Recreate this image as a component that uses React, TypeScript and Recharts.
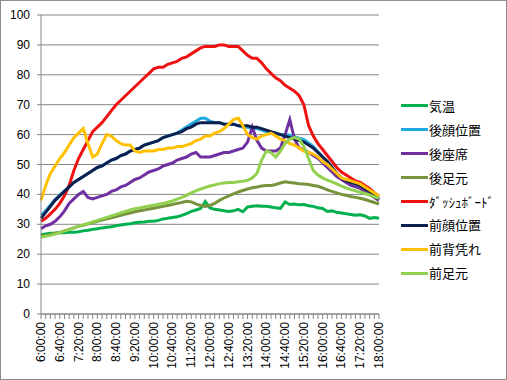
import { LineChart, Line, XAxis, YAxis, CartesianGrid } from 'recharts';

// 6:00 〜 18:00, 10分間隔
const times = [
  '6:00:00', '6:10:00', '6:20:00', '6:30:00', '6:40:00', '6:50:00',
  '7:00:00', '7:10:00', '7:20:00', '7:30:00', '7:40:00', '7:50:00',
  '8:00:00', '8:10:00', '8:20:00', '8:30:00', '8:40:00', '8:50:00',
  '9:00:00', '9:10:00', '9:20:00', '9:30:00', '9:40:00', '9:50:00',
  '10:00:00', '10:10:00', '10:20:00', '10:30:00', '10:40:00', '10:50:00',
  '11:00:00', '11:10:00', '11:20:00', '11:30:00', '11:40:00', '11:50:00',
  '12:00:00', '12:10:00', '12:20:00', '12:30:00', '12:40:00', '12:50:00',
  '13:00:00', '13:10:00', '13:20:00', '13:30:00', '13:40:00', '13:50:00',
  '14:00:00', '14:10:00', '14:20:00', '14:30:00', '14:40:00', '14:50:00',
  '15:00:00', '15:10:00', '15:20:00', '15:30:00', '15:40:00', '15:50:00',
  '16:00:00', '16:10:00', '16:20:00', '16:30:00', '16:40:00', '16:50:00',
  '17:00:00', '17:10:00', '17:20:00', '17:30:00', '17:40:00', '17:50:00',
  '18:00:00',
];

const yTicks = [0, 10, 20, 30, 40, 50, 60, 70, 80, 90, 100];

const airTemp = [
  26.5, 26.8, 27, 27, 27.2, 27.2, 27.3, 27.3, 27.5, 27.8, 28, 28.3, 28.5, 28.8, 29, 29.2, 29.5, 29.8,
  30, 30.2, 30.5, 30.7, 30.8, 31, 31, 31.3, 31.8, 32, 32.3, 32.5, 33, 33.6, 34.3, 34.8, 35.3, 37.6,
  35.5, 35, 34.8, 34.5, 34.3, 34.5, 35, 34.2, 35.8, 36, 36.2, 36, 36, 35.8, 35.5, 35.3, 37.5, 36.6,
  36.8, 36.5, 36.6, 36.2, 36, 35.5, 35.3, 34.3, 34.5, 34, 33.8, 33.5, 33.3, 33, 33.2, 32.8, 32, 32.3, 32,
];
const rearFace = [
  33, 34.5, 36.5, 38.3, 39.8, 41.2, 42.6, 44, 45, 46, 47, 48, 49, 49.5, 50.5, 51.5, 52, 53,
  53.5, 54.5, 55, 55.5, 56.5, 57, 57.5, 58, 59, 59.5, 60, 60.5, 61.5, 62.5, 63.5, 64.5, 65.5, 65.5,
  64.5, 64, 64, 63.5, 63.5, 63.5, 63, 62.5, 62.5, 62, 62, 61.5, 61, 60.5, 60.5, 60, 60, 59.8,
  59.3, 58.8, 58.3, 57.2, 56, 54.3, 52.5, 51, 49, 47, 45.5, 44.5, 44, 43.5, 43, 42, 41, 39.5, 38.5,
];
const rearSeat = [
  28.5, 29.5, 30, 31, 32.5, 34.5, 37, 38.5, 40, 41, 39, 38.5, 39, 39.5, 40, 41, 41.5, 42.5,
  43, 44, 45, 45.5, 46.5, 47.5, 48, 48.5, 49.5, 50, 50.5, 51.5, 52, 52.5, 53.5, 54, 52.5, 52.5,
  52.5, 53, 53.5, 54, 54, 54.5, 55, 55.5, 57.5, 62.5, 58, 55.5, 54.5, 54.5, 54.5, 55.5, 60, 65,
  58.5, 55.5, 55, 54, 53, 52, 50.5, 49, 47.5, 46, 45, 44, 43, 42.5, 42, 41, 40, 39, 38,
];
const rearFoot = [
  26, 26.3, 26.5, 27, 27.3, 27.8, 28.3, 28.8, 29.3, 29.7, 30.2, 30.6, 31, 31.4, 31.8, 32.2, 32.6, 33,
  33.4, 33.8, 34.2, 34.5, 34.8, 35.1, 35.4, 35.7, 36, 36.3, 36.6, 37, 37.3, 37.7, 37.5, 36.8, 36.3, 36,
  36.3, 37, 38, 38.8, 39.5, 40.2, 40.8, 41.3, 41.8, 42.2, 42.5, 42.8, 43, 43, 43.3, 43.8, 44.2, 44,
  43.8, 43.6, 43.5, 43.3, 43, 42.7, 42.2, 41.5, 41, 40.5, 40, 39.7, 39.3, 39, 38.7, 38.3, 37.8, 37.3, 36.8,
];
const dashboard = [
  31, 32, 33.5, 35, 37, 39.5, 43, 48, 52, 55, 58, 61, 62.5, 64, 66, 68, 70, 71.5,
  73, 74.5, 76, 77.5, 79, 80.5, 82, 82.5, 82.5, 83.5, 84, 84.5, 85.5, 86, 87, 88, 89, 89.5,
  89.5, 89.5, 90, 90, 89.5, 89.5, 89.5, 88, 86.5, 85.5, 85.5, 84, 82, 80.5, 79, 78, 76.5, 75.5,
  74.5, 73, 70, 63, 59.5, 57, 55, 53, 51, 49, 47.5, 46.5, 45.5, 44.5, 44, 43, 42, 40.5, 39.5,
];
const frontFace = [
  32, 34, 36, 38, 39.5, 41, 42.5, 44, 45, 46, 47, 48, 49, 49.5, 50.5, 51.5, 52, 53,
  53.5, 54.5, 55, 55.5, 56.5, 57, 57.5, 58, 59, 59.5, 60, 60.5, 61, 62, 62.5, 63.5, 64, 64,
  64, 64, 64, 63.5, 63.5, 63.5, 63, 63, 63, 62.5, 62.5, 62, 61.5, 61, 60.5, 60, 59.5, 59,
  58.5, 58, 57.5, 56.5, 55.5, 54, 52.5, 51, 49, 47, 45.5, 44.5, 44, 43.5, 43, 42, 41, 39.5, 38.5,
];
const frontBack = [
  38, 43, 47, 49.5, 52, 54, 56.5, 59, 60.5, 62, 57, 52.5, 53.5, 57, 60, 59.5, 58, 57,
  56.5, 56.5, 54.5, 54, 54.5, 54.5, 54.5, 55, 55, 55.5, 55.5, 56, 56, 56.5, 57, 58, 58.5, 59.5,
  59.5, 60.5, 61, 62, 63.5, 65, 65.5, 63, 60, 59, 58.5, 59.5, 60, 60.5, 59.5, 58.5, 58, 57,
  56.5, 55.5, 54.5, 54, 53.5, 52.5, 51, 50, 48.5, 47, 45.5, 45, 44.5, 44, 43.5, 42.5, 41.5, 40.5, 39.5,
];
const frontFoot = [
  25.7, 26, 26.3, 26.7, 27.2, 27.7, 28.2, 28.8, 29.3, 29.8, 30.3, 30.8, 31.3, 31.8, 32.3, 32.8, 33.3, 33.8,
  34.3, 34.8, 35.2, 35.5, 35.8, 36.1, 36.4, 36.7, 37, 37.4, 37.8, 38.4, 39, 39.7, 40.5, 41.2, 41.8, 42.3,
  42.8, 43.2, 43.6, 43.8, 44, 44, 44.2, 44.4, 44.7, 45.5, 47, 51.5, 54.5, 54, 52.5, 54.5, 57, 58.5,
  59, 58.5, 56, 52, 48, 46.5, 45.5, 44.8, 44.2, 43.5, 42.8, 42.2, 41.6, 41.2, 40.7, 40.3, 39.8, 39.2, 38.7,
];

const seriesDefs = [
  { key: 'airTemp', name: '気温', color: '#00b050', values: airTemp },
  { key: 'rearFace', name: '後顔位置', color: '#1fa9e1', values: rearFace },
  { key: 'rearSeat', name: '後座席', color: '#7030a0', values: rearSeat },
  { key: 'rearFoot', name: '後足元', color: '#77933c', values: rearFoot },
  { key: 'dashboard', name: 'ﾀﾞｯｼｭﾎﾞｰﾄﾞ', color: '#ee1111', values: dashboard },
  { key: 'frontFace', name: '前顔位置', color: '#0d1f4f', values: frontFace },
  { key: 'frontBack', name: '前背凭れ', color: '#ffc000', values: frontBack },
  { key: 'frontFoot', name: '前足元', color: '#92d050', values: frontFoot },
];

const data = times.map((t, i) => {
  const row: Record<string, string | number> = { time: t };
  seriesDefs.forEach((s) => { row[s.key] = s.values[i]; });
  return row;
});

const GRID = '#868686';
const PLOT_LEFT = 41;
const PLOT_BOTTOM = 314;
const axisFont = '"Liberation Sans", Arial, sans-serif';

const XTick = (props: any) => {
  const { x, payload } = props;
  const showLabel = payload.index % 4 === 0;
  return (
    <g>
      <line x1={x} x2={x} y1={PLOT_BOTTOM} y2={PLOT_BOTTOM + 5} stroke={GRID} />
      {showLabel && (
        <text
          x={x}
          y={PLOT_BOTTOM + 8}
          transform={`rotate(-90, ${x}, ${PLOT_BOTTOM + 8})`}
          textAnchor="end"
          dominantBaseline="central"
          fontSize={12}
          fontFamily={axisFont}
          fill="#000"
        >
          {payload.value}
        </text>
      )}
    </g>
  );
};

const YTick = (props: any) => {
  const { y, payload } = props;
  return (
    <g>
      <line x1={PLOT_LEFT - 4} x2={PLOT_LEFT} y1={y} y2={y} stroke={GRID} />
      <text x={PLOT_LEFT - 11} y={y} textAnchor="end" dominantBaseline="central" fontSize={12} fontFamily={axisFont} fill="#000">
        {payload.value}
      </text>
    </g>
  );
};

const LegendBox = () => (
  <div
    style={{
      position: 'absolute', left: 390, top: 94,
      fontFamily: '"Noto Sans CJK JP", sans-serif', fontSize: 13, color: '#000',
    }}
  >
    {seriesDefs.map((s) => (
      <div key={s.key} style={{ display: 'flex', alignItems: 'center', height: 23.9 }}>
        <div style={{ width: 27, height: 3, background: s.color, marginLeft: 11, marginRight: 1 }} />
        <span style={{ lineHeight: '14px' }}>{s.name}</span>
      </div>
    ))}
  </div>
);

const App = () => (
  <div
    style={{
      position: 'absolute', left: 0, top: 0, width: 507, height: 380,
      boxSizing: 'border-box', border: '1px solid #8c8c8c', background: '#fff',
    }}
  >
    <div style={{ position: 'absolute', left: -1, top: -1 }}>
      <LineChart width={507} height={380} data={data} margin={{ top: 15, right: 128, bottom: 0, left: 0 }}>
        <CartesianGrid vertical={false} stroke={GRID} />
        <XAxis
          dataKey="time"
          interval={0}
          height={66}
          tick={<XTick />}
          tickLine={false}
          tickSize={0}
          axisLine={{ stroke: GRID }}
        />
        <YAxis
          domain={[0, 100]}
          ticks={yTicks}
          width={41}
          tick={<YTick />}
          tickLine={false}
          axisLine={{ stroke: GRID }}
          interval={0}
        />
        {seriesDefs.map((s) => (
          <Line
            key={s.key}
            type="linear"
            dataKey={s.key}
            name={s.name}
            stroke={s.color}
            strokeWidth={3}
            dot={false}
            isAnimationActive={false}
          />
        ))}
      </LineChart>
      <LegendBox />
    </div>
  </div>
);

export default App;
